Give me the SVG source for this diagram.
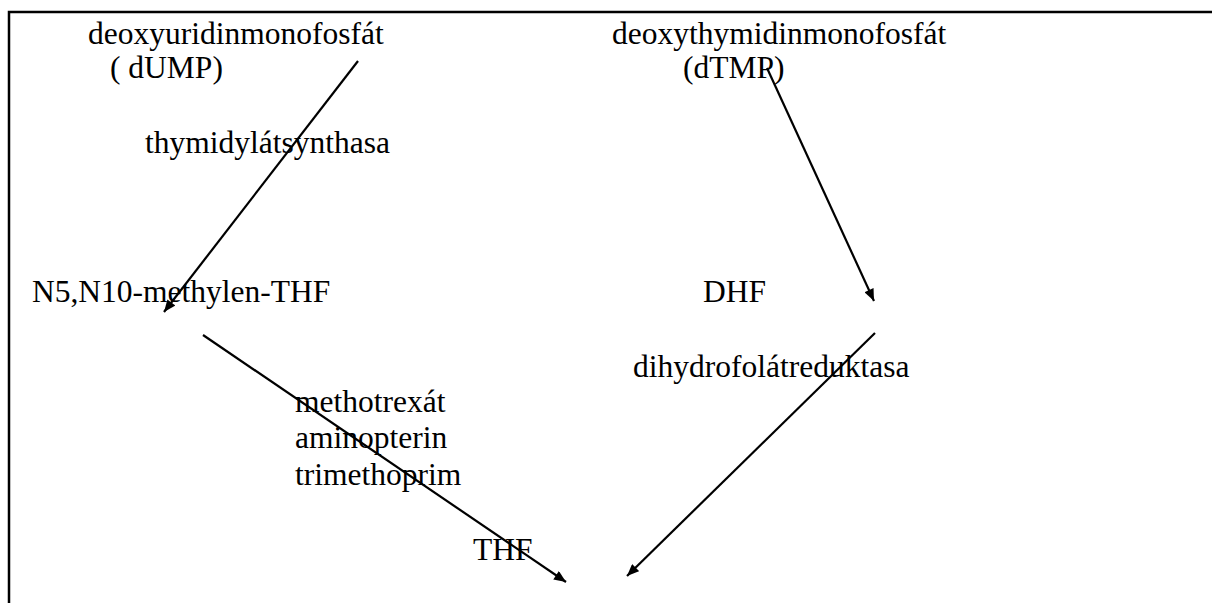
<svg xmlns="http://www.w3.org/2000/svg" width="1212" height="603" viewBox="0 0 1212 603">
  <style>
    .lbl { font-family: "Liberation Serif", "Times New Roman", serif; font-size: 31.5px; fill: #000; }
    .frame { fill: none; stroke: #000; stroke-width: 2.5; }
    .arr { fill: none; stroke: #000; stroke-width: 2.2; marker-end: url(#head); }
  </style>
  <defs>
    <marker id="head" viewBox="0 0 12 10" refX="12" refY="5" markerWidth="13" markerHeight="10" markerUnits="userSpaceOnUse" orient="auto">
      <path d="M0,0 L12,5 L0,10 Z" fill="#000"/>
    </marker>
  </defs>
  <rect width="1212" height="603" fill="#fff"/>
  <!-- page frame: top and left edges -->
  <path class="frame" d="M9,603 V12 H1212"/>

  <g id="dUMP">
    <text class="lbl" x="88" y="44">deoxyuridinmonofosfát</text>
    <text class="lbl" x="110" y="78">( dUMP)</text>
  </g>
  <g id="dTMP">
    <text class="lbl" x="612" y="44">deoxythymidinmonofosfát</text>
    <text class="lbl" x="683" y="78">(dTMP)</text>
  </g>
  <g id="thymidylate-synthase">
    <text class="lbl" x="145" y="153">thymidylátsynthasa</text>
  </g>
  <g id="methylene-THF">
    <text class="lbl" x="32" y="302">N5,N10-methylen-THF</text>
  </g>
  <g id="DHF">
    <text class="lbl" x="703" y="302">DHF</text>
  </g>
  <g id="dhfr">
    <text class="lbl" x="633" y="377">dihydrofolátreduktasa</text>
  </g>
  <g id="inhibitors">
    <text class="lbl" x="295" y="412">methotrexát</text>
    <text class="lbl" x="295" y="448">aminopterin</text>
    <text class="lbl" x="295" y="485">trimethoprim</text>
  </g>
  <g id="THF">
    <text class="lbl" x="473" y="560">THF</text>
  </g>

  <g id="connectors">
    <line class="arr" x1="358" y1="61" x2="164" y2="312"/>
    <line class="arr" x1="767" y1="68" x2="874" y2="301"/>
    <line class="arr" x1="203" y1="335" x2="566" y2="582"/>
    <line class="arr" x1="875" y1="333" x2="627" y2="576"/>
  </g>
</svg>
